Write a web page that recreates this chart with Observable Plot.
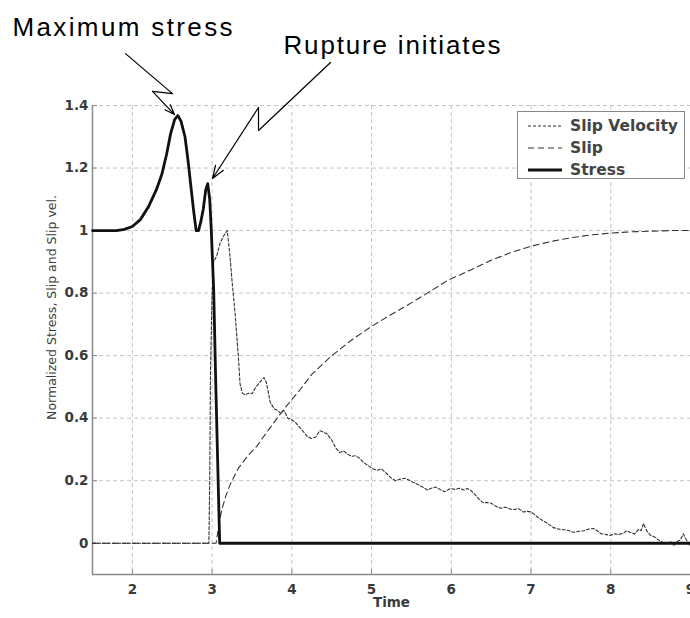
<!DOCTYPE html>
<html>
<head>
<meta charset="utf-8">
<script src="https://cdn.jsdelivr.net/npm/d3@7"></script>
<script src="https://cdn.jsdelivr.net/npm/@observablehq/plot@0.6"></script>
<style>
  html, body { margin: 0; padding: 0; background: #fff; overflow: hidden; }
  #wrap { position: relative; width: 690px; height: 618px; }
  #legend { position: absolute; left: 517px; top: 111px; width: 168px; height: 68px;
            border: 1px solid #888; background: #fff; box-sizing: border-box; padding-top: 3px; }
  .row { height: 22px; display: flex; align-items: center; }
  .row svg { margin-left: 10px; margin-right: 8px; flex: none; }
  .row span { font: bold 15.5px "DejaVu Sans", sans-serif; color: #444; white-space: nowrap; }
</style>
</head>
<body>
<div id="wrap"></div>
<script>
// ---- data ----
const xDomain = [1.5, 9];
const yDomain = [-0.1, 1.4];
const xTicks = [2, 3, 4, 5, 6, 7, 8, 9];
const yTicks = [0, 0.2, 0.4, 0.6, 0.8, 1, 1.2, 1.4];
const xLabel = "Time";
const yLabel = "Normalized Stress, Slip and Slip vel.";
const yLabelAt = [0.986, 0.754];   // data coords of the rotated label's centre
const seriesNames = ["Slip Velocity", "Slip", "Stress"];

const stressT = [1.5,1.8,1.9,2.0,2.1,2.2,2.3,2.37,2.43,2.48,2.53,2.57,2.61,2.66,2.70,2.73,2.77,2.80,2.83,2.86,2.89,2.92,2.945,2.97,2.99,3.02,3.045,3.07,3.095,3.2,9.0];
const stressV = [1.0,1.0,1.004,1.013,1.035,1.075,1.13,1.18,1.245,1.31,1.355,1.368,1.35,1.30,1.22,1.15,1.06,1.0,1.0,1.03,1.07,1.13,1.15,1.1,1.0,0.81,0.52,0.26,0.0,0.0,0.0];

const slipT = [1.5,3.05,3.08,3.1,3.12,3.17,3.23,3.33,3.45,3.56,3.7,3.86,4.0,4.1,4.25,4.48,4.75,4.98,5.2,5.44,5.7,5.95,6.25,6.5,6.75,7.0,7.25,7.5,7.75,8.0,8.25,8.5,8.75,9.0];
const slipV = [0,0,0.05,0.08,0.105,0.15,0.19,0.24,0.28,0.31,0.36,0.415,0.46,0.49,0.54,0.595,0.65,0.69,0.725,0.76,0.8,0.84,0.875,0.905,0.93,0.95,0.965,0.977,0.986,0.992,0.996,0.998,1.0,1.0];

const slipVelT = [1.5,2.96,2.97,2.98,3.0,3.02,3.06,3.1,3.15,3.19,3.22,3.25,3.29,3.33,3.35,3.38,3.41,3.46,3.5,3.55,3.6,3.65,3.68,3.73,3.78,3.82,3.86,3.9,3.95,4.0,4.05,4.1,4.15,4.2,4.25,4.3,4.35,4.4,4.44,4.5,4.55,4.6,4.65,4.7,4.75,4.8,4.86,4.9,4.95,5.0,5.07,5.12,5.18,5.24,5.3,5.36,5.42,5.46,5.52,5.58,5.64,5.7,5.74,5.8,5.86,5.92,5.99,6.05,6.1,6.16,6.2,6.24,6.3,6.35,6.4,6.45,6.5,6.56,6.62,6.68,6.73,6.78,6.85,6.9,6.95,7.0,7.05,7.1,7.15,7.2,7.28,7.35,7.42,7.48,7.53,7.6,7.66,7.72,7.78,7.83,7.88,7.94,7.99,8.05,8.1,8.16,8.2,8.24,8.3,8.35,8.38,8.41,8.45,8.5,8.55,8.6,8.65,8.7,8.75,8.79,8.83,8.87,8.91,8.95,9.0];
const slipVelV = [0,0,0.2,0.55,0.8,0.9,0.92,0.96,0.985,1.0,0.93,0.84,0.73,0.595,0.51,0.48,0.475,0.48,0.478,0.5,0.515,0.53,0.515,0.45,0.43,0.425,0.415,0.425,0.4,0.395,0.385,0.37,0.355,0.34,0.335,0.34,0.36,0.355,0.35,0.33,0.305,0.29,0.295,0.285,0.278,0.28,0.27,0.258,0.25,0.24,0.233,0.238,0.225,0.21,0.2,0.205,0.208,0.203,0.195,0.188,0.18,0.17,0.175,0.18,0.172,0.165,0.175,0.172,0.176,0.17,0.175,0.17,0.155,0.14,0.13,0.13,0.128,0.118,0.112,0.115,0.11,0.108,0.11,0.1,0.102,0.1,0.09,0.08,0.072,0.065,0.05,0.045,0.043,0.04,0.035,0.038,0.04,0.045,0.047,0.04,0.03,0.028,0.025,0.03,0.028,0.032,0.04,0.035,0.03,0.045,0.04,0.063,0.04,0.025,0.02,0.01,0.003,0.0,0.005,-0.007,0.005,0.01,0.03,0.01,-0.01];

// annotations (data coordinates)
const annoTexts = ["Maximum stress", "Rupture initiates"];
const annoTextX = [0.497, 3.896];
const annoTextY = [1.650, 1.592];
const maxStressPathX = [1.914, 2.503, 2.253];
const maxStressPathY = [1.566, 1.438, 1.445];
const maxStressTip = [2.528, 1.371];
const rupturePathX = [4.485, 3.582, 3.582];
const rupturePathY = [1.5375, 1.32, 1.3936];
const ruptureTip = [3.005, 1.1665];

// ---- build tables ----
const zip = (T, V) => T.map((t, i) => ({t, v: V[i]}));
const stress = zip(stressT, stressV);
const slip = zip(slipT, slipV);
const slipVel = zip(slipVelT, slipVelV);
const pathA = maxStressPathX.map((x, i) => ({x, y: maxStressPathY[i]}));
const pathB = rupturePathX.map((x, i) => ({x, y: rupturePathY[i]}));
const arrows = [
  {x1: pathA[2].x, y1: pathA[2].y, x2: maxStressTip[0], y2: maxStressTip[1]},
  {x1: pathB[2].x, y1: pathB[2].y, x2: ruptureTip[0], y2: ruptureTip[1]}
];
const annos = annoTexts.map((text, i) => ({text, x: annoTextX[i], y: annoTextY[i]}));

const W = 690, H = 618, mL = 92, mR = 0, mT = 105, mB = 44;
const frameW = W - mL - mR, frameH = H - mT - mB;
const styles = {
  "Slip Velocity": {stroke: "#333", strokeWidth: 1.1, dash: "3,2"},
  "Slip": {stroke: "#333", strokeWidth: 1.1, dash: "6,4"},
  "Stress": {stroke: "#111", strokeWidth: 2.8, dash: null}
};
const fmt = d => String(Math.round(d * 10) / 10);

const chart = Plot.plot({
  width: W, height: H,
  marginLeft: mL, marginRight: mR, marginTop: mT, marginBottom: mB,
  style: {fontFamily: "'DejaVu Sans', sans-serif", fontSize: "13px", color: "#333", background: "#fff", overflow: "visible"},
  x: {domain: xDomain},
  y: {domain: yDomain},
  marks: [
    Plot.gridX(xTicks, {stroke: "#c4c4c4", strokeOpacity: 1, strokeDasharray: "4,3"}),
    Plot.gridY(yTicks, {stroke: "#c4c4c4", strokeOpacity: 1, strokeDasharray: "4,3"}),
    Plot.ruleX([xDomain[0]], {stroke: "#8a8a8a", strokeWidth: 1.5}),
    Plot.ruleY([yDomain[0]], {stroke: "#8a8a8a", strokeWidth: 1.5}),
    Plot.tickX(xTicks, {x: d => d, insetTop: frameH - 5, stroke: "#8a8a8a"}),
    Plot.tickY(yTicks, {y: d => d, insetRight: frameW - 5, stroke: "#8a8a8a"}),
    Plot.axisX(xTicks, {tickSize: 0, tickPadding: 10, fontSize: 13.5, fontWeight: "bold", fill: "#3a3a3a", label: null, tickFormat: fmt}),
    Plot.axisY(yTicks, {tickSize: 0, tickPadding: 4, fontSize: 13.5, fontWeight: "bold", fill: "#3a3a3a", label: null, tickFormat: fmt}),
    Plot.text([xLabel], {text: d => d, frameAnchor: "bottom", dy: 32, fontWeight: "bold", fill: "#3a3a3a", fontSize: 13.5}),
    Plot.text([yLabel], {text: d => d, x: yLabelAt[0], y: yLabelAt[1], rotate: -90, fill: "#3a3a3a", fontSize: 12.5}),
    Plot.line(slip, {x: "t", y: "v", stroke: styles["Slip"].stroke, strokeWidth: styles["Slip"].strokeWidth, strokeDasharray: styles["Slip"].dash}),
    Plot.line(slipVel, {x: "t", y: "v", stroke: styles["Slip Velocity"].stroke, strokeWidth: styles["Slip Velocity"].strokeWidth, strokeDasharray: styles["Slip Velocity"].dash}),
    Plot.line(stress, {x: "t", y: "v", stroke: styles["Stress"].stroke, strokeWidth: styles["Stress"].strokeWidth, strokeLinejoin: "round"}),
    Plot.line(pathA, {x: "x", y: "y", stroke: "#000", strokeWidth: 1.2}),
    Plot.line(pathB, {x: "x", y: "y", stroke: "#000", strokeWidth: 1.2}),
    Plot.arrow(arrows, {x1: "x1", y1: "y1", x2: "x2", y2: "y2", stroke: "#000", strokeWidth: 1.2, headAngle: 40, headLength: 17}),
    Plot.text(annos, {x: "x", y: "y", text: "text", textAnchor: "start", lineAnchor: "middle",
      fontFamily: "'Liberation Sans Narrow', 'Liberation Sans', sans-serif", fontSize: 26, fill: "#000"})
  ]
});

const wrap = document.getElementById("wrap");
wrap.appendChild(chart);

// stretch annotation texts to the reference widths
const annoWidths = {"Maximum stress": 220, "Rupture initiates": 217};
chart.querySelectorAll("text").forEach(t => {
  const w = annoWidths[t.textContent];
  if (w) { t.setAttribute("textLength", w); t.setAttribute("lengthAdjust", "spacing"); }
});

// legend
const legend = document.createElement("div");
legend.id = "legend";
seriesNames.forEach(name => {
  const s = styles[name];
  const row = document.createElement("div");
  row.className = "row";
  const svg = d3.create("svg").attr("width", 34).attr("height", 10);
  svg.append("line").attr("x1", 0).attr("x2", 34).attr("y1", 5).attr("y2", 5)
    .attr("stroke", s.stroke).attr("stroke-width", s.strokeWidth)
    .attr("stroke-dasharray", s.dash);
  row.appendChild(svg.node());
  const span = document.createElement("span");
  span.textContent = name;
  row.appendChild(span);
  legend.appendChild(row);
});
wrap.appendChild(legend);
</script>
</body>
</html>
